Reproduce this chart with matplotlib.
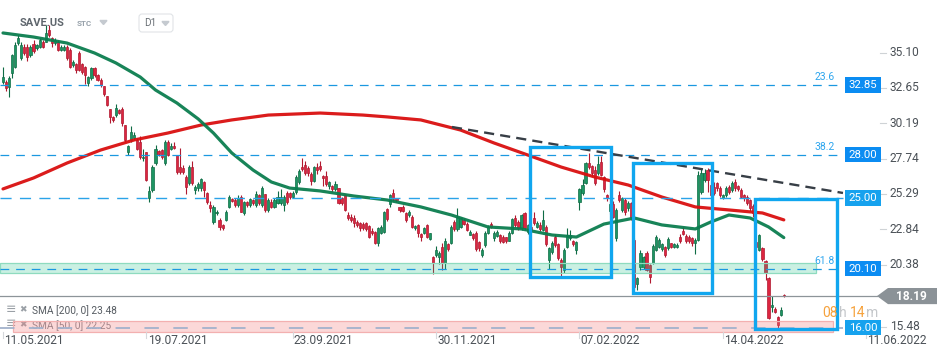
import matplotlib
matplotlib.use('Agg')
import numpy as np
import matplotlib.pyplot as plt
from matplotlib.patches import Rectangle, Polygon, FancyBboxPatch
from matplotlib.transforms import blended_transform_factory

plt.rcParams['font.family'] = ['Roboto', 'DejaVu Sans']

# daily candles SAVE.US
opens = [33.07, 33.03, 32.73, 33.65, 34.12, 35.74, 34.70, 35.51, 35.51, 34.93,
         35.67, 35.39, 35.51, 35.85, 35.85, 36.66, 36.08, 35.74, 35.85, 35.27,
         35.30, 35.51, 35.27, 34.23, 34.28, 35.04, 34.28, 34.12, 32.96, 33.31,
         34.00, 33.54, 33.19, 32.77, 32.08, 31.18, 30.64, 30.76, 31.11, 31.18,
         30.07, 28.21, 29.02, 29.14, 29.02, 28.91, 27.75, 28.17, 25.02, 25.55,
         27.40, 28.26, 28.33, 27.40, 28.91, 28.40, 28.63, 27.98, 27.17, 27.06,
         26.48, 26.01, 27.17, 25.55, 25.67, 25.67, 26.13, 25.32, 24.51, 23.35,
         23.93, 23.47, 23.12, 23.47, 24.39, 24.93, 24.86, 24.51, 25.09, 23.93,
         24.70, 24.51, 24.86, 24.51, 25.20, 24.51, 25.25,
         24.17, 24.74, 24.40, 24.67, 24.67, 24.51, 25.32, 25.32, 25.05, 25.44,
         26.13, 27.17, 27.29, 27.06, 26.67, 26.20, 27.13, 27.22, 26.53, 26.53,
         25.83, 25.83, 25.60, 25.67, 24.98, 25.21, 23.82, 23.66, 23.59, 23.36,
         23.24, 23.19, 23.24, 23.05, 22.73, 22.66, 21.90, 22.59, 22.66, 24.21,
         24.58, 25.37, 24.98, 24.35, 24.40, 23.93, 23.82, 23.70, 22.89, 23.12,
         22.50, 22.59, 23.12, 22.13, 20.88, 21.04, 20.88, 21.62, 20.51, 21.80,
         21.90, 23.36, 22.82, 23.01, 23.47, 23.19, 22.43, 22.50, 22.59, 21.97,
         21.02, 21.73, 22.59, 23.19, 22.20, 22.36, 22.43, 22.27, 22.27, 22.04,
         22.59, 23.59, 23.36, 22.89, 23.93, 22.66, 23.01,
         23.59, 23.01, 23.12, 22.78, 23.01, 20.69, 21.27, 22.31, 21.80, 20.69,
         20.00, 21.57, 22.20, 22.01, 21.39, 24.74, 25.32, 26.06, 27.45, 27.22,
         26.94, 26.71, 27.52, 26.43, 25.21, 24.12, 24.58, 22.20, 25.21, 24.16,
         24.86, 24.28, 24.63, 22.08, 19.02, 20.23, 20.23, 21.20, 20.34, 20.51,
         21.39, 21.62, 21.43, 21.57, 21.50, 21.85, 21.57, 21.57, 22.27, 22.73,
         22.36, 22.27, 22.20, 21.85, 22.08, 25.44, 26.25, 26.94, 25.90, 25.78,
         26.02, 25.67, 24.97, 25.21, 25.78, 25.55, 26.13, 25.83, 25.55, 25.21,
         25.09, 24.86, 24.44, 21.97, 21.39, 21.50, 20.65, 19.42, 17.45, 17.29,
         16.71, 16.90, 18.25]
closes = [33.42, 32.61, 33.31, 34.93, 35.62, 36.08, 35.62, 35.04, 34.81, 35.51,
          35.20, 35.62, 35.97, 35.51, 36.43, 36.32, 35.74, 35.97, 35.27, 35.51,
          35.50, 34.70, 34.12, 34.46, 33.88, 33.88, 33.77, 33.54, 33.42, 34.00,
          33.54, 33.19, 32.84, 32.20, 31.45, 30.64, 30.41, 31.27, 30.88, 30.18,
          29.02, 28.63, 29.60, 29.37, 28.40, 27.87, 27.87, 26.25, 25.51, 27.17,
          28.40, 28.03, 27.87, 28.91, 27.98, 28.63, 28.45, 26.82, 26.82, 26.82,
          25.78, 27.17, 26.01, 25.78, 25.95, 26.32, 25.55, 24.74, 24.28, 24.39,
          24.05, 23.01, 22.94, 24.05, 25.09, 24.79, 24.51, 25.02, 24.05, 24.74,
          24.51, 24.90, 24.63, 25.27, 24.63, 25.71, 24.16,
          24.86, 24.40, 24.86, 25.05, 25.05, 25.05, 24.74, 25.05, 25.32, 26.48,
          26.90, 27.01, 26.71, 26.71, 26.20, 27.13, 26.94, 26.99, 26.36, 25.97,
          26.13, 25.60, 25.97, 24.67, 24.63, 24.17, 23.59, 23.47, 23.24, 23.12,
          22.89, 22.89, 22.82, 22.27, 22.55, 21.90, 22.89, 23.01, 24.05, 23.52,
          25.21, 24.91, 24.86, 24.17, 24.12, 23.47, 24.05, 23.01, 23.05, 22.55,
          22.31, 22.89, 22.31, 22.55, 20.51, 21.39, 21.16, 20.51, 22.04, 21.43,
          23.01, 22.82, 23.66, 23.59, 23.19, 22.78, 22.66, 22.20, 21.43, 21.50,
          21.39, 22.59, 22.96, 22.96, 22.59, 22.66, 22.04, 21.97, 22.04, 22.59,
          23.52, 23.12, 22.89, 23.82, 22.89, 23.12, 22.73,
          23.28, 23.24, 22.82, 23.47, 21.80, 21.50, 21.85, 21.73, 20.81, 20.18,
          21.39, 22.43, 22.43, 21.80, 21.92, 25.60, 25.90, 27.41, 27.17, 26.71,
          26.06, 27.36, 26.59, 25.60, 24.97, 24.58, 23.70, 24.16, 24.86, 24.97,
          24.05, 24.67, 23.70, 18.84, 19.42, 21.20, 20.92, 20.00, 19.53, 21.66,
          22.31, 22.08, 21.80, 21.04, 22.13, 21.62, 21.80, 21.73, 22.03, 22.50,
          22.03, 22.03, 21.85, 22.08, 26.59, 26.71, 26.71, 26.25, 25.21, 25.32,
          25.67, 25.21, 25.21, 25.67, 25.44, 26.06, 25.67, 25.60, 25.09, 24.97,
          24.63, 24.28, 23.93, 21.57, 22.43, 20.74, 19.81, 16.64, 17.57, 17.10,
          16.18, 17.24, 18.19]
highs = [34.1, 33.2, 33.5, 35.0, 35.8, 36.3, 35.8, 35.7, 35.7, 35.6,
         36.0, 35.7, 36.1, 36.0, 37.0, 37.0, 36.2, 36.1, 36.0, 35.6,
         35.6, 35.6, 35.4, 34.6, 34.4, 35.2, 34.4, 34.2, 33.5, 34.1,
         34.1, 33.6, 33.3, 32.8, 32.1, 31.2, 30.7, 31.5, 31.2, 31.3,
         30.1, 28.7, 30.0, 29.6, 29.2, 29.3, 28.4, 28.2, 25.8, 27.3,
         28.7, 28.3, 28.4, 29.0, 29.0, 28.8, 28.9, 28.0, 28.5, 27.3,
         26.6, 27.3, 27.6, 25.9, 26.1, 26.4, 26.2, 25.4, 24.8, 24.5,
         24.2, 23.6, 23.2, 24.2, 25.2, 25.0, 25.0, 25.2, 25.2, 24.8,
         24.8, 25.0, 24.9, 25.5, 25.3, 25.8, 25.3,
         25.0, 24.9, 25.0, 25.5, 25.6, 25.2, 25.5, 25.4, 25.5, 26.6,
         27.0, 27.8, 27.6, 27.2, 26.8, 27.2, 27.4, 27.6, 26.6, 26.9,
         26.2, 25.9, 26.2, 25.7, 25.1, 25.3, 24.0, 23.9, 23.8, 23.5,
         23.3, 23.3, 23.3, 23.1, 22.9, 22.7, 23.0, 23.1, 24.1, 24.3,
         25.3, 25.6, 25.0, 24.4, 24.5, 24.0, 24.2, 23.8, 23.1, 23.2,
         22.6, 23.0, 23.2, 22.6, 21.0, 21.7, 21.3, 21.9, 22.2, 21.9,
         23.1, 23.5, 24.3, 23.7, 23.6, 23.3, 22.8, 22.6, 22.7, 22.0,
         21.5, 22.7, 23.1, 23.3, 22.7, 22.8, 22.5, 22.4, 22.3, 22.7,
         23.6, 23.8, 23.5, 23.9, 24.0, 23.2, 23.1,
         24.0, 23.4, 23.3, 24.2, 23.1, 21.6, 22.0, 22.5, 21.9, 20.8,
         21.5, 22.9, 22.8, 22.1, 22.0, 25.7, 26.3, 27.5, 28.1, 27.3,
         27.2, 27.9, 27.9, 26.5, 25.3, 24.7, 24.8, 24.3, 25.5, 25.1,
         25.0, 24.8, 24.7, 22.2, 19.5, 21.4, 21.0, 21.3, 20.4, 21.8,
         22.4, 22.2, 21.9, 21.7, 22.3, 21.9, 21.9, 21.9, 22.5, 23.0,
         22.5, 22.4, 22.3, 22.2, 26.9, 27.0, 27.0, 27.1, 26.0, 26.1,
         26.1, 25.8, 25.3, 25.8, 25.9, 26.2, 26.3, 25.9, 25.7, 25.3,
         25.2, 24.9, 24.6, 22.0, 22.5, 21.6, 20.7, 19.5, 18.2, 17.4,
         16.8, 17.4, 18.3]
lows = [32.9, 32.4, 32.0, 33.3, 34.0, 35.6, 34.6, 34.9, 34.5, 34.8,
        35.1, 35.3, 35.4, 35.4, 35.8, 36.2, 35.5, 35.6, 35.2, 35.2,
        35.2, 34.6, 34.0, 34.1, 33.7, 33.8, 33.6, 32.9, 32.8, 33.2,
        33.4, 33.1, 32.7, 32.1, 31.4, 30.2, 30.3, 30.6, 30.8, 30.0,
        28.9, 28.0, 28.9, 29.0, 28.3, 27.7, 27.6, 26.2, 24.7, 25.4,
        27.3, 27.9, 27.7, 27.3, 27.9, 28.3, 28.4, 26.7, 26.7, 26.7,
        25.3, 25.9, 25.9, 25.3, 25.5, 25.5, 25.1, 24.6, 24.0, 23.2,
        23.8, 22.8, 22.8, 23.4, 24.3, 24.7, 24.4, 24.4, 24.0, 23.8,
        24.4, 24.4, 24.5, 24.4, 24.5, 24.4, 24.0,
        24.0, 24.3, 24.3, 24.6, 24.5, 24.1, 24.6, 24.9, 25.0, 25.3,
        26.0, 26.9, 26.6, 26.5, 25.9, 26.1, 26.7, 26.9, 25.8, 25.8,
        25.6, 25.4, 25.5, 24.6, 24.5, 24.1, 23.5, 23.3, 23.0, 23.0,
        22.7, 22.8, 22.7, 22.2, 22.4, 21.8, 21.7, 22.5, 22.6, 23.4,
        24.4, 24.8, 24.7, 24.0, 24.0, 23.3, 23.7, 22.9, 22.8, 22.3,
        22.0, 22.5, 22.2, 22.1, 19.7, 20.9, 20.4, 20.0, 20.1, 21.3,
        21.8, 22.7, 22.7, 22.9, 23.1, 22.7, 22.4, 22.1, 21.3, 21.3,
        20.9, 21.6, 22.5, 22.9, 22.0, 22.3, 21.9, 21.9, 21.9, 22.0,
        22.5, 23.0, 22.8, 22.8, 22.8, 22.5, 22.6,
        23.1, 22.9, 22.7, 22.7, 21.7, 20.1, 21.1, 21.6, 20.7, 19.6,
        19.8, 21.5, 22.1, 21.7, 21.1, 24.2, 25.2, 26.0, 27.0, 26.5,
        25.9, 26.6, 26.5, 25.4, 24.8, 23.9, 23.6, 22.0, 24.7, 24.0,
        23.8, 24.1, 23.5, 18.7, 18.6, 20.0, 20.1, 19.9, 19.1, 20.4,
        21.3, 21.5, 21.3, 20.9, 21.4, 21.5, 21.5, 21.5, 21.9, 22.4,
        21.9, 21.9, 21.7, 21.1, 22.0, 25.3, 26.1, 25.4, 25.0, 25.2,
        25.5, 25.1, 24.9, 25.1, 25.3, 25.4, 25.5, 25.5, 25.0, 24.8,
        24.5, 24.1, 23.7, 21.4, 21.3, 20.6, 19.3, 16.6, 17.1, 17.0,
        15.9, 16.8, 18.1]

# moving averages, sampled along the drawn curves (candle index, value)
sma50_idx = [0, 10, 21, 30, 37, 45, 50, 57, 64, 69, 75, 82, 88, 94, 104, 115,
             126, 137, 147, 159, 170, 180, 188, 197, 207, 216, 227, 232, 238, 245, 251, 256]
sma50 = [36.46, 36.18, 35.76, 35.07, 34.38, 33.40, 32.50, 31.60, 30.49, 29.51, 28.13,
         26.94, 26.11, 25.69, 25.49, 25.14, 24.86, 24.38, 23.82, 22.99, 22.85, 22.43,
         22.29, 23.19, 23.61, 23.13, 22.85, 23.33, 23.82, 23.61, 22.99, 22.25]
sma200_idx = [0, 10, 21, 32, 43, 54, 65, 75, 87, 104, 118, 126, 137, 150, 161, 172,
              183, 194, 205, 216, 227, 238, 249, 256]
sma200 = [25.63, 26.39, 27.43, 28.33, 29.03, 29.51, 30.07, 30.42, 30.76, 30.90, 30.76,
          30.63, 30.42, 29.72, 28.82, 27.99, 27.15, 26.46, 25.90, 25.07, 24.38, 24.17,
          23.96, 23.48]

# drawings
fib_levels = [32.85, 28.00, 20.10]
fib_names = ['23.6', '38.2', '61.8']
hline_levels = [25.00, 16.00]
last_price = 18.19
trend_idx = [147.2, 275.4]
trend_val = [29.93, 25.35]
box_left = [172.9, 206.5, 246.6]
box_right = [199.5, 232.6, 273.4]
box_top = [28.54, 27.43, 24.93]
box_bottom = [19.51, 18.40, 15.90]
zone_green = (19.79, 20.49)
zone_red = (15.69, 16.46)

price_ticks = [35.10, 32.65, 30.19, 27.74, 25.29, 22.84, 20.38, 17.93, 15.48]
date_idx = [0, 47, 95, 142, 189, 236, 283]
date_labels = ['11.05.2021', '19.07.2021', '23.09.2021', '30.11.2021',
               '07.02.2022', '14.04.2022', '11.06.2022']

# pixel <-> data helpers for the layout
PPC, X0 = 3.05, 3.0
def X(px):
    return (px - X0) / PPC
def Y(py):
    return 25.0 - (py - 198.0) / 14.4

fig = plt.figure(figsize=(9.49, 3.58), dpi=100)
fig.patch.set_facecolor('white')
ax = fig.add_axes([0, 0, 1, 1])
ax.set_xlim(X(0), X(949))
ax.set_ylim(Y(358), Y(0))
ax.axis('off')
ui = fig.add_axes([0, 0, 1, 1], facecolor='none')
ui.set_xlim(0, 949)
ui.set_ylim(358, 0)
ui.axis('off')
bt = blended_transform_factory(ui.transData, ax.transData)   # x pixels, y price
bd = blended_transform_factory(ax.transData, ui.transData)   # x index, y pixels

# candles
o = np.array(opens); c = np.array(closes); h = np.array(highs); l = np.array(lows)
idx = np.arange(len(c))
up = c >= o
face = np.where(up, '#1d9563', '#dc2540')
edge = np.where(up, '#0f6c45', '#b0192f')
ax.vlines(idx, l, h, colors=edge, lw=0.8, zorder=3)
body_lo = np.minimum(o, c)
body_h = np.maximum(np.abs(c - o), 0.08)
ax.bar(idx, body_h, bottom=body_lo, width=0.72, color=face, edgecolor=edge,
       linewidth=0.5, zorder=4)

# SMAs
ax.plot(sma200_idx, sma200, color='#d90f0f', lw=2.3, solid_capstyle='round', zorder=5, alpha=0.95)
ax.plot(sma50_idx, sma50, color='#0b7d4f', lw=2.3, solid_capstyle='round', zorder=5, alpha=0.95)

# zones
xs, xe = X(0), X(843)
ax.add_patch(Rectangle((xs, zone_green[0]), X(816) - xs, zone_green[1] - zone_green[0],
                       facecolor='#2cc48e', alpha=0.25, edgecolor='none', zorder=6))
ax.add_patch(Rectangle((xs, zone_green[0]), X(816) - xs, zone_green[1] - zone_green[0],
                       facecolor='none', edgecolor='#8edbbf', lw=0.9, zorder=6))
ax.add_patch(Rectangle((X(13), zone_red[0]), X(833) - X(13), zone_red[1] - zone_red[0],
                       facecolor='#f27e7e', alpha=0.3, edgecolor='none', zorder=6))
ax.add_patch(Rectangle((X(13), zone_red[0]), X(833) - X(13), zone_red[1] - zone_red[0],
                       facecolor='none', edgecolor='#f3b0b0', lw=0.9, zorder=6))

# legend (under the red zone, as in the platform)
ax.text(6, 309, '≡', transform=ui.transData, fontsize=9, color='#9aa0a6', va='center', zorder=5.5)
ax.text(19, 310, '✖', transform=ui.transData, fontsize=6.5, color='#9aa0a6', va='center',
        family=['DejaVu Sans'], zorder=5.5)
ax.text(32, 311, 'SMA [200, 0] %.2f' % sma200[-1], transform=ui.transData, fontsize=7.3,
        color='#555b61', va='center', zorder=5.5)
ax.text(6, 324, '≡', transform=ui.transData, fontsize=9, color='#9aa0a6', va='center', zorder=5.5)
ax.text(19, 325, '✖', transform=ui.transData, fontsize=6.5, color='#9aa0a6', va='center',
        family=['DejaVu Sans'], zorder=5.5)
ax.text(32, 326, 'SMA [50, 0] %.2f' % sma50[-1], transform=ui.transData, fontsize=7.3,
        color='#80868c', va='center', zorder=5.5)

# horizontal levels
for v in fib_levels:
    ax.plot([xs, xe], [v, v], color='#1b98e0', lw=0.9, dashes=(7, 5.5), zorder=7)
ax.plot([xs, xe], [hline_levels[0]] * 2, color='#2aa3e8', lw=1.0, dashes=(8, 6), zorder=7)
ax.plot([xs, xe], [hline_levels[1]] * 2, color='#a3b2cc', lw=1.3, dashes=(8, 8), zorder=7)
ax.plot([xs, X(877)], [last_price] * 2, color='#8d9499', lw=0.9, zorder=7)

# trend line and boxes
ax.plot(trend_idx, trend_val, color='#373e46', lw=1.7, dashes=(4.3, 2.6), zorder=8)
for x0, x1, t, b in zip(box_left, box_right, box_top, box_bottom):
    ax.add_patch(Rectangle((x0, b), x1 - x0, t - b, fill=False, edgecolor='#10a6ef',
                           lw=2.4, zorder=9))

# fib names
for v, n in zip(fib_levels, fib_names):
    ui.text(825, v + 0.55, n, transform=bt, ha='center', va='center', fontsize=7.5, color='#2ea6ee')

# value boxes on the right
box_cols = {32.85: '#0b8cf2', 28.00: '#0b8cf2', 20.10: '#0b8cf2', 25.00: '#16a2ee', 16.00: '#16a2ee'}
for v in fib_levels + hline_levels:
    ui.add_patch(Rectangle((845, v - 0.53), 36, 1.06, transform=bt, facecolor=box_cols[v],
                           edgecolor='none', zorder=3))
    ui.text(863, v, '%.2f' % v, transform=bt, ha='center', va='center', fontsize=8.2,
            color='white', zorder=4)

# price axis (the tick under the last-price marker is hidden)
ymin_lab = Y(327)
for v in price_ticks:
    yv = max(v, ymin_lab)
    if abs(yv - last_price) < 0.8:
        continue
    ui.plot([880, 886], [yv, yv], transform=bt, color='#cfd3d6', lw=0.8)
    ui.text(890, yv, '%.2f' % v, transform=bt, ha='left', va='center', fontsize=8.6, color='#4b5157')

# last price arrow
pts = [(877, last_price), (888, last_price + 0.56), (937, last_price + 0.56),
       (937, last_price - 0.56), (888, last_price - 0.56)]
ui.add_patch(Polygon(pts, closed=True, transform=bt, facecolor='#8b9297', edgecolor='none', zorder=5))
ui.text(911, last_price, '%.2f' % last_price, transform=bt, ha='center', va='center',
        fontsize=8.6, fontweight='bold', color='white', zorder=6)

# date axis
for d, s in zip(date_idx, date_labels):
    ui.plot([d, d], [332, 338], transform=bd, color='#d5d8db', lw=0.8)
    ui.text(d + 0.4, 341, s, transform=bd, ha='left', va='center', fontsize=8.6, color='#4b5157')

# countdown
ui.text(822, 313, '08', fontsize=10, color='#f6a23c', va='center')
ui.text(839, 313, 'h', fontsize=10, color='#c4c7ca', va='center')
ui.text(850, 313, '14', fontsize=10, color='#f6a23c', va='center')
ui.text(866, 313, 'm', fontsize=10, color='#c4c7ca', va='center')

# header
ui.text(20, 23, 'SAVE.US', fontsize=8, fontweight='bold', color='#5f666d', va='center')
ui.text(77, 24, 'STC', fontsize=5.8, fontweight='bold', color='#98a2ab', va='center')
ui.fill([100, 107, 103.5], [20.5, 20.5, 24.5], color='#c5cad0')
ui.add_patch(FancyBboxPatch((139, 14), 34, 18, boxstyle='round,pad=0,rounding_size=3',
                            facecolor='white', edgecolor='#e1e4e7', lw=0.8))
ui.text(144, 23.5, 'D1', fontsize=7.2, color='#6a7076', va='center')
ui.fill([162, 169, 165.5], [21.5, 21.5, 25.5], color='#c5cad0')

fig.savefig('out.png', dpi=100, facecolor='white')
